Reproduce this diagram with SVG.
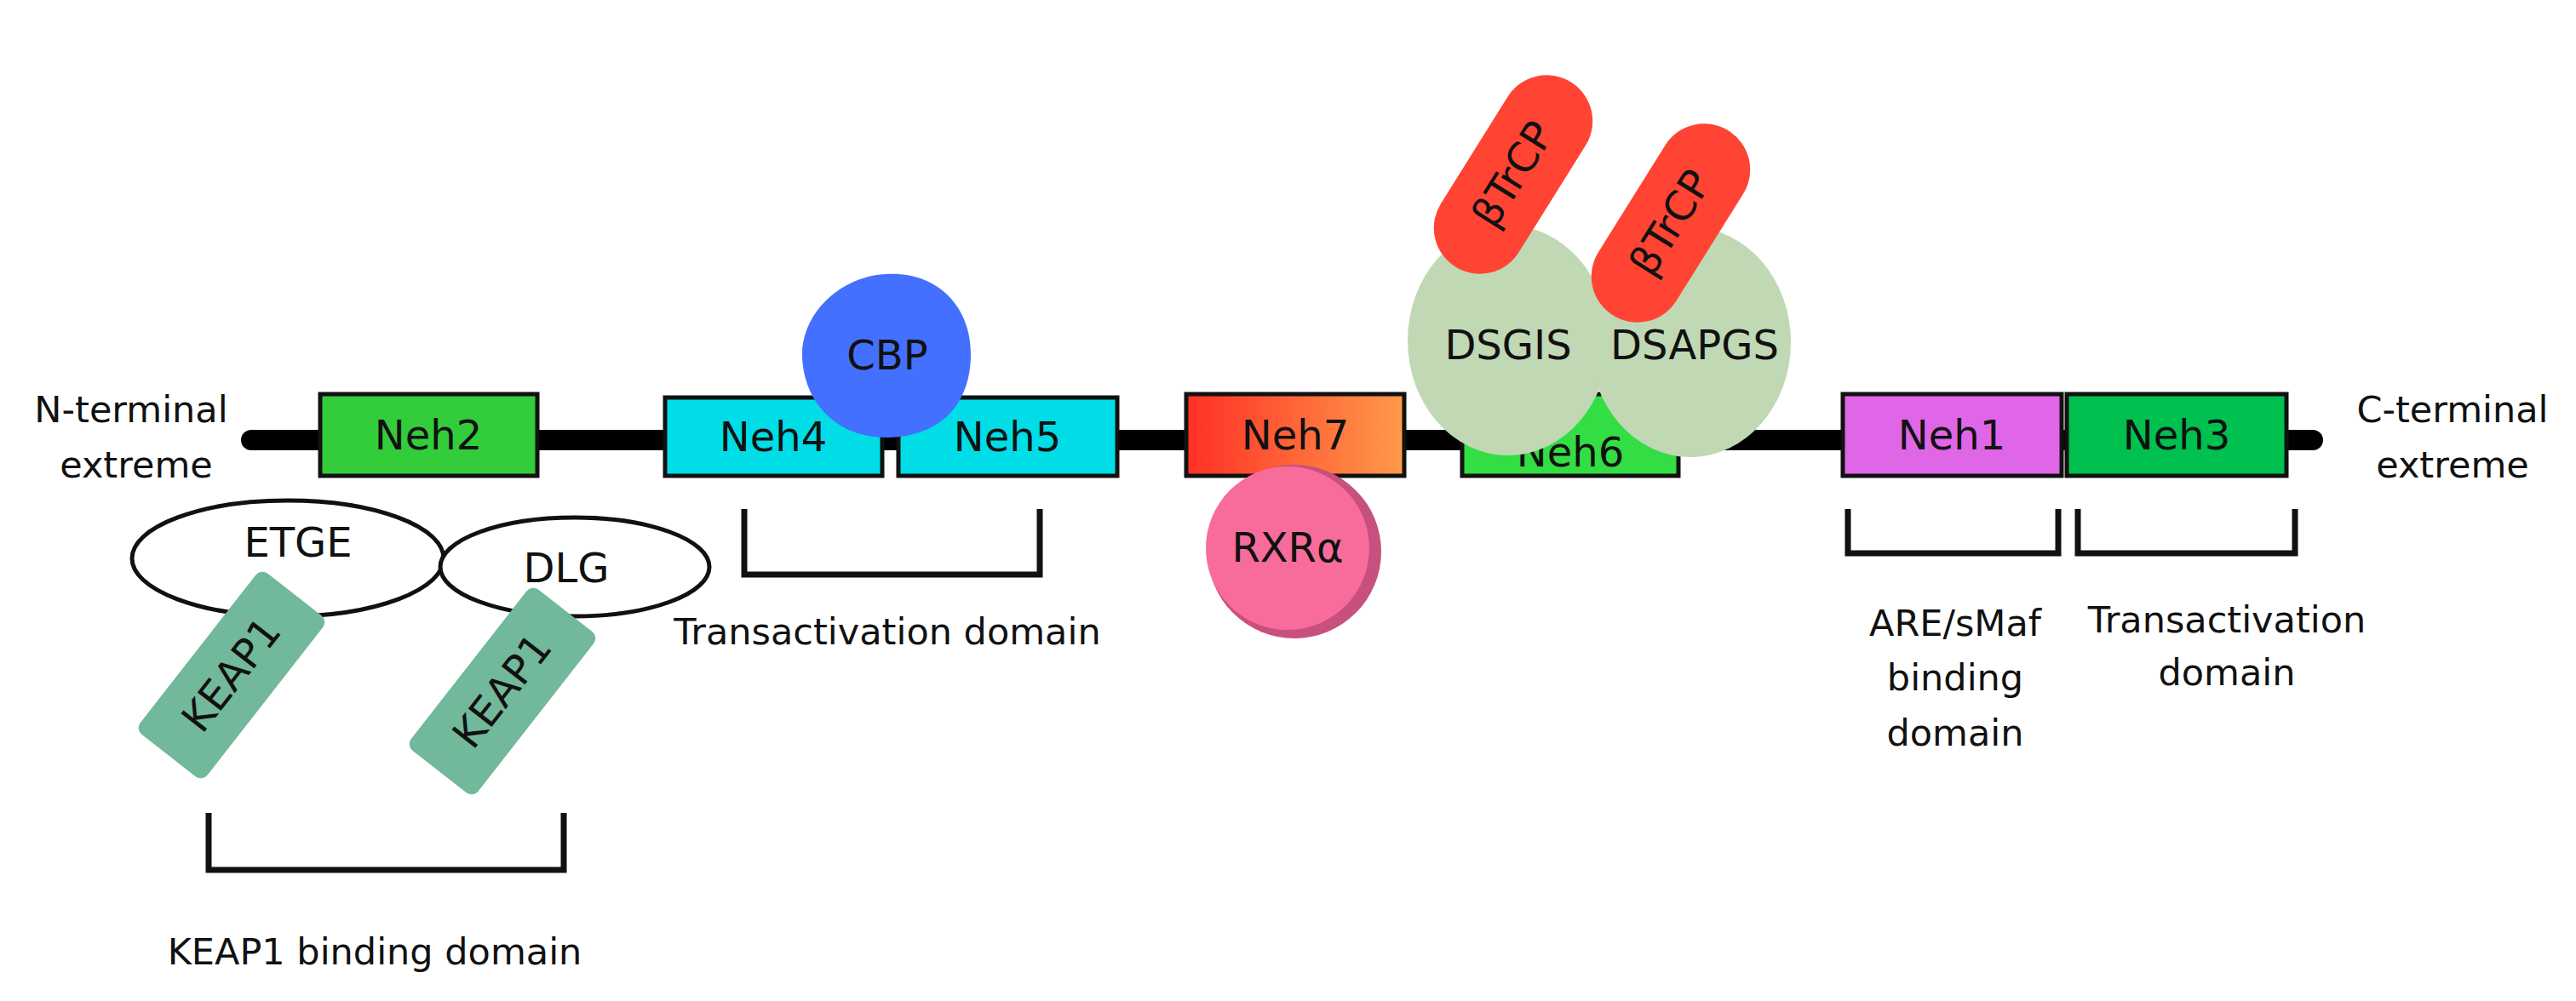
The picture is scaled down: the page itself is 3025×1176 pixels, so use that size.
<svg xmlns="http://www.w3.org/2000/svg" width="3025" height="1176" viewBox="0 0 3025 1176">
<style>
text{font-family:"DejaVu Sans","Liberation Sans",sans-serif;fill:#111;text-anchor:middle}
.box{stroke:#111;stroke-width:5}
.lbl{font-size:48px}
.t{font-size:43px}
.br{fill:none;stroke:#111;stroke-width:7}
</style>
<defs>
<linearGradient id="g7" x1="0" x2="1"><stop offset="0" stop-color="#ff3026"/><stop offset="1" stop-color="#ff9a4a"/></linearGradient>
</defs>
<rect width="3025" height="1176" fill="#fff"/>
<g id="connectors">
<line x1="295" y1="517" x2="2716" y2="517" stroke="#000" stroke-width="24" stroke-linecap="round"/>
<path class="br" d="M245 955V1022H662V955"/>
<path class="br" d="M874 598V675H1221V598"/>
<path class="br" d="M2170 598V650H2417V598"/>
<path class="br" d="M2440 598V650H2695V598"/>
</g>
<g id="neh2"><rect class="box" x="376" y="463" width="255" height="96" fill="#33cc3a"/><text class="lbl" x="503" y="528">Neh2</text></g>
<g id="neh4"><rect class="box" x="781" y="467" width="255" height="92" fill="#00dde6"/><text class="lbl" x="908" y="530">Neh4</text></g>
<g id="neh5"><rect class="box" x="1055" y="467" width="257" height="92" fill="#00dde6"/><text class="lbl" x="1183" y="530">Neh5</text></g>
<g id="neh7"><rect class="box" x="1393" y="463" width="256" height="96" fill="url(#g7)"/><text class="lbl" x="1521" y="528">Neh7</text></g>
<g id="neh6"><rect class="box" x="1717" y="463" width="254" height="96" fill="#33dd44"/><text class="lbl" x="1844" y="548">Neh6</text></g>
<g id="cbp"><path d="M1040 322C1100 318 1142 360 1140 420C1138 480 1100 512 1045 514C990 516 945 480 942 420C940 370 985 325 1040 322Z" fill="#4470ff"/><text class="lbl" x="1042" y="434">CBP</text></g>
<g id="neh1"><rect class="box" x="2164" y="463" width="257" height="96" fill="#e066e8"/><text class="lbl" x="2292" y="528">Neh1</text></g>
<g id="neh3"><rect class="box" x="2427" y="463" width="258" height="96" fill="#00c050"/><text class="lbl" x="2556" y="528">Neh3</text></g>
<g id="rxra"><circle cx="1520" cy="648" r="102" fill="#c8507e"/><circle cx="1512" cy="644" r="96" fill="#f86c9c"/><text class="lbl" x="1512" y="660">RXRα</text></g>
<g id="dsgis"><ellipse cx="1771" cy="400" rx="118" ry="135" fill="#c0d8b4"/><text class="lbl" x="1771" y="422">DSGIS</text></g>
<g id="dsapgs"><ellipse cx="1985" cy="402" rx="118" ry="135" fill="#c0d8b4"/><text class="lbl" x="1990" y="422">DSAPGS</text></g>
<g id="btrcp1" transform="translate(1777 205) rotate(-58)"><rect x="-128" y="-54" width="256" height="108" rx="54" fill="#ff4433"/><text class="lbl" y="16">βTrCP</text></g>
<g id="btrcp2" transform="translate(1962 262) rotate(-58)"><rect x="-128" y="-54" width="256" height="108" rx="54" fill="#ff4433"/><text class="lbl" y="16">βTrCP</text></g>
<g id="etge"><ellipse cx="338" cy="656" rx="183" ry="68" fill="#fff" stroke="#111" stroke-width="5"/><text class="lbl" x="350" y="654">ETGE</text></g>
<g id="dlg"><ellipse cx="675" cy="666" rx="158" ry="58" fill="#fff" stroke="#111" stroke-width="5"/><text class="lbl" x="665" y="684">DLG</text></g>
<g id="keap1a" transform="translate(272 793) rotate(-52)"><rect x="-120" y="-50" width="240" height="100" rx="10" fill="#72b89a"/><text class="lbl" y="16">KEAP1</text></g>
<g id="keap1b" transform="translate(590 812) rotate(-52)"><rect x="-120" y="-50" width="240" height="100" rx="10" fill="#72b89a"/><text class="lbl" y="16">KEAP1</text></g>
<g id="labels">
<text class="t" x="154" y="496">N-terminal</text>
<text class="t" x="160" y="561">extreme</text>
<text class="t" x="1042" y="757">Transactivation domain</text>
<text class="t" x="440" y="1133">KEAP1 binding domain</text>
<text class="t" x="2296" y="747">ARE/sMaf</text>
<text class="t" x="2296" y="811">binding</text>
<text class="t" x="2296" y="876">domain</text>
<text class="t" x="2615" y="743">Transactivation</text>
<text class="t" x="2615" y="805">domain</text>
<text class="t" x="2880" y="496">C-terminal</text>
<text class="t" x="2880" y="561">extreme</text>
</g>
</svg>
